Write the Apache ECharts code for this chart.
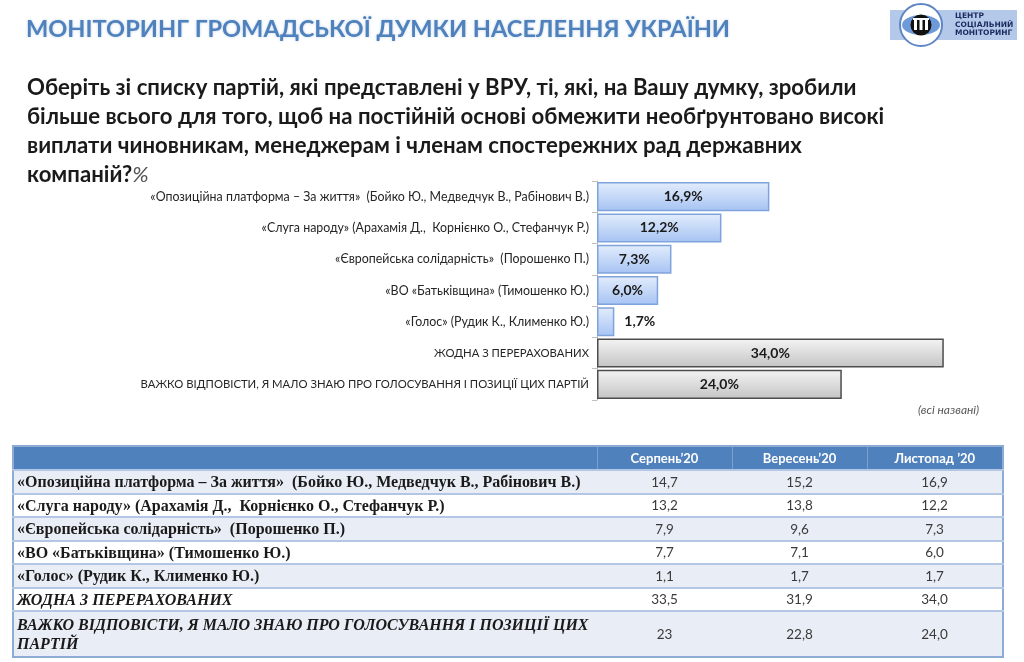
<!DOCTYPE html>
<html>
<head>
<meta charset="utf-8">
<script src="https://cdn.jsdelivr.net/npm/echarts@6/dist/echarts.min.js"></script>
<style>
  html, body { margin: 0; padding: 0; background: #fff; }
  #chart { position: absolute; left: 0; top: 0; width: 1024px; height: 662px; }
  #tbl { position: absolute; left: 12px; top: 445px; width: 990px; border-collapse: collapse; table-layout: fixed;
         border: 2px solid #8eabd6; }
  #tbl th { background: #4f81bd; color: #fff; font-family: Lato, sans-serif; font-weight: bold; font-size: 13px;
            height: 22px; padding: 0; border-left: 1px solid #7b9fd0; }
  #tbl th:first-child { border-left: none; }
  #tbl td { height: 21.5px; padding: 0; border-top: 2px solid #b3c6e3; }
  #tbl tr.odd td { background: #e9edf5; }
  #tbl tr.even td { background: #ffffff; }
  #tbl td.lab { font-family: "Liberation Serif", serif; font-weight: bold; font-size: 16px; color: #1a1a1a;
                padding-left: 3px; white-space: pre-wrap; line-height: 19px; }
  #tbl td.lab.it { font-style: italic; }
  #tbl td.val { font-family: Lato, sans-serif; font-size: 13.5px; color: #3a3a3a; text-align: center; }
</style>
</head>
<body>
<div id="chart"></div>
<table id="tbl"></table>
<script>
// ---- data ----
const categories = [
  '«Опозиційна платформа – За життя»  (Бойко Ю., Медведчук В., Рабінович В.)',
  '«Слуга народу» (Арахамія Д.,  Корнієнко О., Стефанчук Р.)',
  '«Європейська солідарність»  (Порошенко П.)',
  '«ВО «Батьківщина» (Тимошенко Ю.)',
  '«Голос» (Рудик К., Клименко Ю.)',
  'ЖОДНА З ПЕРЕРАХОВАНИХ',
  'ВАЖКО ВІДПОВІСТИ, Я МАЛО ЗНАЮ ПРО ГОЛОСУВАННЯ І ПОЗИЦІЇ ЦИХ ПАРТІЙ'
];
const values = [16.9, 12.2, 7.3, 6.0, 1.7, 34.0, 24.0];
const isParty = [true, true, true, true, true, false, false];

const tableMonths = ['Серпень’20', 'Вересень’20', 'Листопад ’20'];
const tableLabels = [
  '«Опозиційна платформа – За життя»  (Бойко Ю., Медведчук В., Рабінович В.)',
  '«Слуга народу» (Арахамія Д.,  Корнієнко О., Стефанчук Р.)',
  '«Європейська солідарність»  (Порошенко П.)',
  '«ВО «Батьківщина» (Тимошенко Ю.)',
  '«Голос» (Рудик К., Клименко Ю.)',
  'ЖОДНА З ПЕРЕРАХОВАНИХ',
  'ВАЖКО ВІДПОВІСТИ, Я МАЛО ЗНАЮ ПРО ГОЛОСУВАННЯ І ПОЗИЦІЇ ЦИХ\nПАРТІЙ'
];
const tableItalic = [false, false, false, false, false, true, true];
const aug20 = ['14,7', '13,2', '7,9', '7,7', '1,1', '33,5', '23'];
const sep20 = ['15,2', '13,8', '9,6', '7,1', '1,7', '31,9', '22,8'];
const nov20 = ['16,9', '12,2', '7,3', '6,0', '1,7', '34,0', '24,0'];

// ---- table ----
(function () {
  const t = document.getElementById('tbl');
  let h = '<colgroup><col style="width:584px"><col style="width:135px"><col style="width:135px"><col style="width:136px"></colgroup>';
  h += '<tr><th></th>' + tableMonths.map(m => '<th>' + m + '</th>').join('') + '</tr>';
  tableLabels.forEach((l, i) => {
    const tall = l.indexOf('\n') >= 0;
    h += '<tr class="' + (i % 2 === 0 ? 'odd' : 'even') + '">' +
      '<td class="lab' + (tableItalic[i] ? ' it' : '') + '"' + (tall ? ' style="height:44px"' : '') + '>' + l + '</td>' +
      '<td class="val">' + aug20[i] + '</td><td class="val">' + sep20[i] + '</td><td class="val">' + nov20[i] + '</td></tr>';
  });
  t.innerHTML = h;
})();

// ---- chart ----
const chart = echarts.init(document.getElementById('chart'), null, { renderer: 'canvas' });

const blueFill = new echarts.graphic.LinearGradient(0, 0, 0, 1, [
  { offset: 0, color: '#e3edfc' }, { offset: 1, color: '#a6c3f3' }]);
const grayFill = new echarts.graphic.LinearGradient(0, 0, 0, 1, [
  { offset: 0, color: '#f4f4f4' }, { offset: 1, color: '#c4c4c4' }]);

const barData = values.map((v, i) => ({
  value: v,
  itemStyle: isParty[i]
    ? { color: blueFill, borderColor: '#7fa3dc', borderWidth: 1.5 }
    : { color: grayFill, borderColor: '#4d4d4d', borderWidth: 1.5 },
  label: v < 3 ? { position: 'right', distance: 10 } : undefined
}));

const option = {
  animation: false,
  backgroundColor: '#ffffff',
  title: [
    {
      text: 'МОНІТОРИНГ ГРОМАДСЬКОЇ ДУМКИ НАСЕЛЕННЯ УКРАЇНИ',
      left: 21, top: 12,
      textStyle: { fontFamily: 'Lato', fontWeight: 'bold', fontSize: 23.6, color: '#4f81bd',
                   textShadowColor: 'rgba(79,129,189,0.35)', textShadowBlur: 3 }
    },
    {
      text: 'Оберіть зі списку партій, які представлені у ВРУ, ті, які, на Вашу думку, зробили\n' +
            'більше всього для того, щоб на постійній основі обмежити необґрунтовано високі\n' +
            'виплати чиновникам, менеджерам і членам спостережних рад державних\n' +
            'компаній?{p|%}',
      left: 22, top: 68,
      textStyle: {
        fontFamily: 'Lato', fontWeight: 'bold', fontSize: 22.2, color: '#1a1a1a', lineHeight: 29,
        rich: { p: { fontFamily: 'Lato', fontStyle: 'italic', fontWeight: 'normal', fontSize: 22, color: '#555', lineHeight: 29 } }
      }
    },
    {
      text: '(всі названі)',
      left: 913, top: 399,
      textStyle: { fontFamily: 'Lato', fontStyle: 'italic', fontWeight: 'normal', fontSize: 12, color: '#595959' }
    }
  ],
  grid: { left: 597, right: 19, top: 181, height: 219, containLabel: false },
  xAxis: { type: 'value', min: 0, max: 40, show: false },
  yAxis: {
    type: 'category', data: categories, inverse: true,
    axisLine: { show: true, lineStyle: { color: '#bfbfbf', width: 1 } },
    axisTick: { show: true, length: 5, lineStyle: { color: '#bfbfbf' } },
    axisLabel: {
      margin: 8, fontFamily: 'Lato', fontSize: 12.4, color: '#262626',
      formatter: (v, i) => isParty[i] ? v : '{u|' + v + '}',
      rich: { u: { fontFamily: 'Lato', fontSize: 11.3, color: '#262626' } }
    }
  },
  series: [{
    type: 'bar',
    data: barData,
    barCategoryGap: '7%',
    label: {
      show: true, position: 'inside',
      fontFamily: 'Lato', fontWeight: 'bold', fontSize: 14, color: '#1a1a1a',
      formatter: p => p.value.toFixed(1).replace('.', ',') + '%'
    }
  }],
  graphic: [
    { type: 'rect', shape: { x: 890, y: 10, width: 127, height: 30 }, style: { fill: '#b4c9ea' } },
    { type: 'circle', shape: { cx: 921, cy: 25, r: 21 }, style: { fill: '#ffffff', stroke: '#5f86c4', lineWidth: 2 } },
    { type: 'circle', shape: { cx: 0, cy: 0, r: 10 }, x: 921, y: 25, scaleX: 1.9, scaleY: 1,
      style: { fill: '#6f9ad9' } },
    { type: 'circle', shape: { cx: 921, cy: 25, r: 10.5 }, style: { fill: '#111111' } },
    { type: 'rect', shape: { x: 914, y: 19, width: 3, height: 11 }, style: { fill: '#ffffff' } },
    { type: 'rect', shape: { x: 919.5, y: 18, width: 3, height: 12 }, style: { fill: '#ffffff' } },
    { type: 'rect', shape: { x: 925, y: 19, width: 3, height: 11 }, style: { fill: '#ffffff' } },
    { type: 'rect', shape: { x: 913, y: 18, width: 16, height: 2 }, style: { fill: '#ffffff' } },
    { type: 'text', x: 955, y: 12, style: { text: 'ЦЕНТР\nСОЦІАЛЬНИЙ\nМОНІТОРИНГ', fill: '#1c2a5e',
      font: 'bold 7.5px "DejaVu Sans"', lineHeight: 8.5 } }
  ]
};
chart.setOption(option);
</script>
</body>
</html>
